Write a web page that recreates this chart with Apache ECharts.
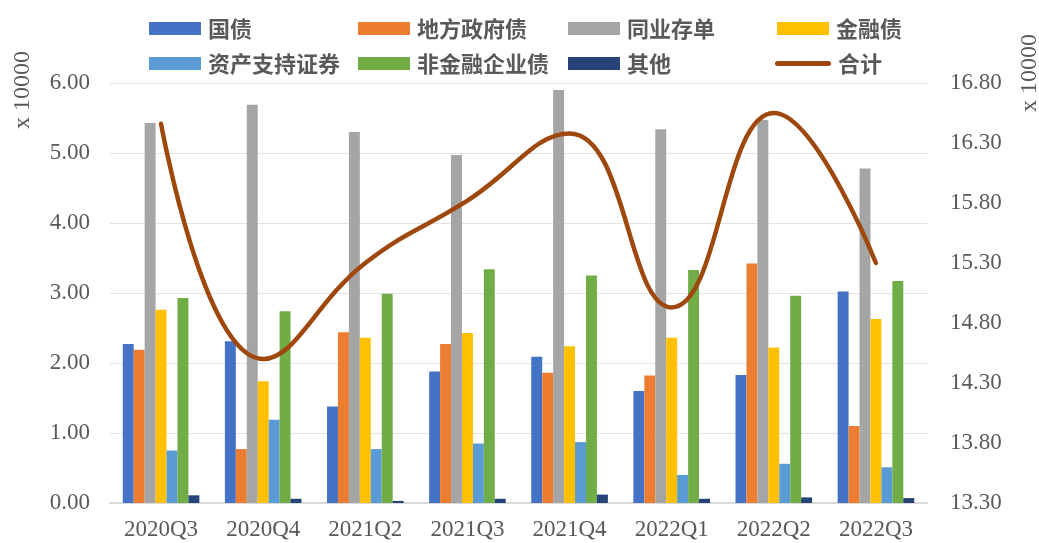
<!DOCTYPE html>
<html>
<head>
<meta charset="utf-8">
<script src="https://cdn.jsdelivr.net/npm/echarts@6/dist/echarts.min.js"></script>
<style>
  html, body { margin: 0; padding: 0; background: #fff; }
  #chart { width: 1039px; height: 543px; }
</style>
</head>
<body>
<div id="chart"></div>
<script>
// Quarters on the category axis
const quarters = ['2020Q3', '2020Q4', '2021Q2', '2021Q3', '2021Q4', '2022Q1', '2022Q2', '2022Q3'];

// Holdings by bond type (x 10000), left axis
const treasury   = [2.27, 2.31, 1.38, 1.88, 2.09, 1.60, 1.83, 3.02];
const localGov   = [2.19, 0.77, 2.44, 2.27, 1.86, 1.82, 3.42, 1.10];
const ncd        = [5.43, 5.69, 5.30, 4.97, 5.90, 5.34, 5.47, 4.78];
const financial  = [2.76, 1.74, 2.36, 2.43, 2.24, 2.36, 2.22, 2.63];
const abs        = [0.75, 1.19, 0.77, 0.85, 0.87, 0.40, 0.56, 0.51];
const corporate  = [2.93, 2.74, 2.99, 3.34, 3.25, 3.33, 2.96, 3.17];
const others     = [0.11, 0.06, 0.03, 0.06, 0.12, 0.06, 0.08, 0.07];

// Total (x 10000), right axis
const total      = [16.46, 14.50, 15.30, 15.82, 16.38, 14.93, 16.55, 15.30];

// Tick labels
const leftTicks  = [0, 1, 2, 3, 4, 5, 6];
const rightTicks = [13.3, 13.8, 14.3, 14.8, 15.3, 15.8, 16.3, 16.8];

const names  = ['国债', '地方政府债', '同业存单', '金融债', '资产支持证券', '非金融企业债', '其他', '合计'];
const colors = ['#4472C4', '#ED7D31', '#A5A5A5', '#FFC000', '#5B9BD5', '#70AD47', '#264478', '#9E480E'];
const barData = [treasury, localGov, ncd, financial, abs, corporate, others];

const textColor = '#595959';
const serif = '"Liberation Serif", "DejaVu Serif", serif';
const cjk = '"Noto Sans CJK SC", sans-serif';

// Legend: four columns, two rows, one legend block per entry
const colX = [149, 358, 568, 777];
const rowCenterY = [28.5, 63.5];
const legends = names.map((name, i) => {
  const col = i % 4, row = Math.floor(i / 4);
  const isLine = name === '合计';
  return {
    data: [name],
    left: isLine ? colX[col] - 2 : colX[col],
    top: rowCenterY[row] - 12,
    padding: 0,
    orient: 'horizontal',
    itemWidth: isLine ? 56 : 52,
    itemHeight: isLine ? 5 : 13,
    itemGap: 0,
    icon: isLine
      ? 'path://M2.5,0H53.5A2.5,2.5,0,0,1,53.5,5H2.5A2.5,2.5,0,0,1,2.5,0Z'
      : 'rect',
    textStyle: {
      color: textColor,
      fontFamily: cjk,
      fontWeight: 'bold',
      fontSize: 22,
      lineHeight: 24,
      padding: [0, 0, 0, 2]
    },
    selectedMode: false
  };
});

const series = barData.map((d, i) => ({
  name: names[i],
  type: 'bar',
  yAxisIndex: 0,
  data: d,
  barGap: '0%',
  barCategoryGap: '25%',
  itemStyle: { color: colors[i] },
  emphasis: { disabled: true }
}));

series.push({
  name: '合计',
  type: 'line',
  yAxisIndex: 1,
  data: total,
  smooth: 0.45,
  showSymbol: false,
  symbol: 'none',
  lineStyle: { color: colors[7], width: 4.5, cap: 'round', join: 'round' },
  itemStyle: { color: colors[7] },
  z: 5
});

const chart = echarts.init(document.getElementById('chart'), null, { renderer: 'canvas' });
chart.setOption({
  animation: false,
  backgroundColor: '#ffffff',
  color: colors,
  legend: legends,
  grid: { left: 110, right: 112, top: 83, bottom: 40, containLabel: false },
  xAxis: {
    type: 'category',
    data: quarters,
    axisLine: { show: true, lineStyle: { color: '#D9D9D9', width: 2 } },
    axisTick: { show: false },
    axisLabel: { color: textColor, fontFamily: serif, fontSize: 23, margin: 15 }
  },
  yAxis: [
    {
      type: 'value',
      min: leftTicks[0],
      max: leftTicks[leftTicks.length - 1],
      interval: 1,
      axisLine: { show: false },
      axisTick: { show: false },
      axisLabel: {
        color: textColor, fontFamily: serif, fontSize: 23, margin: 20,
        formatter: v => v.toFixed(2)
      },
      splitLine: { show: true, lineStyle: { color: '#E3E3E3', width: 1 } }
    },
    {
      type: 'value',
      min: rightTicks[0],
      max: rightTicks[rightTicks.length - 1],
      axisLine: { show: false },
      axisTick: { show: false },
      axisLabel: {
        color: textColor, fontFamily: serif, fontSize: 23, margin: 23,
        customValues: rightTicks,
        formatter: v => v.toFixed(2)
      },
      splitLine: { show: false }
    }
  ],
  graphic: [
    {
      type: 'text', x: 23, y: 90, rotation: Math.PI / 2,
      style: { text: 'x 10000', fill: textColor, font: '24px ' + serif, align: 'center', verticalAlign: 'middle' }
    },
    {
      type: 'text', x: 1030, y: 73, rotation: Math.PI / 2,
      style: { text: 'x 10000', fill: textColor, font: '24px ' + serif, align: 'center', verticalAlign: 'middle' }
    }
  ],
  series: series
});
</script>
</body>
</html>
